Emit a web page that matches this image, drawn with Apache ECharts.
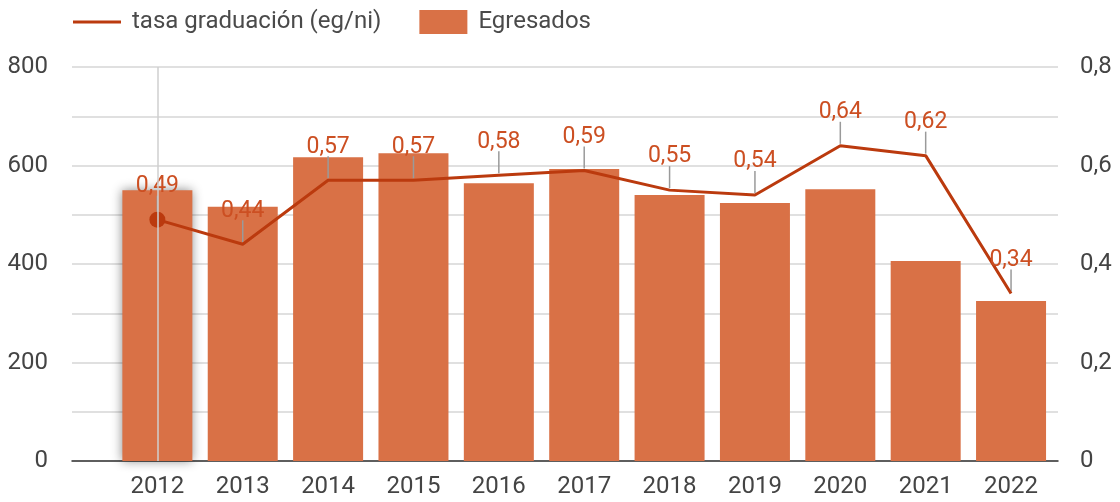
<!DOCTYPE html>
<html>
<head>
<meta charset="utf-8">
<script src="https://cdn.jsdelivr.net/npm/echarts@6/dist/echarts.min.js"></script>
<style>
  html, body { margin: 0; padding: 0; background: #fff; }
  #main { width: 1120px; height: 502px; }
</style>
</head>
<body>
<div id="main"></div>
<script>
// datos
var years = [2012, 2013, 2014, 2015, 2016, 2017, 2018, 2019, 2020, 2021, 2022];
var egresados = [550, 516, 617, 625, 564, 593, 540, 524, 552, 406, 325];
var tasa = [0.49, 0.44, 0.57, 0.57, 0.58, 0.59, 0.55, 0.54, 0.64, 0.62, 0.34];
var leftTicks = [0, 200, 400, 600, 800];
var rightTicks = [0, 0.2, 0.4, 0.6, 0.8];

var barColor = '#d97146';
var lineColor = '#bb3a0e';
var textColor = '#444';

function coma(v) {
    return String(v).replace('.', ',');
}

var barData = years.map(function (y, i) {
    var item = { value: [y, egresados[i]] };
    if (i === 0) {
        // barra resaltada (hover)
        item.itemStyle = { shadowBlur: 10, shadowColor: 'rgba(0,0,0,0.45)' };
    }
    return item;
});
var lineData = years.map(function (y, i) {
    var item = { value: [y, tasa[i]], symbolSize: 0 };
    if (i === 0) {
        // punto resaltado
        item.symbolSize = 16;
        item.label = { distance: 14 };
    }
    return item;
});

var chart = echarts.init(document.getElementById('main'));
chart.setOption({
    animation: false,
    textStyle: { fontFamily: 'Roboto' },
    legend: {
        left: 73,
        top: 10,
        padding: 0,
        itemGap: 38,
        itemWidth: 48,
        itemHeight: 24,
        textStyle: { fontSize: 24, color: '#4a4a4a', fontFamily: 'Roboto', padding: [0, 0, 0, 6] },
        data: [
            { name: 'tasa graduación (eg/ni)', icon: 'path://M0,0 L48,0 L48,3 L0,3 Z' },
            { name: 'Egresados', icon: 'rect' }
        ]
    },
    grid: { left: 72, right: 62, top: 67, bottom: 41 },
    xAxis: {
        type: 'value',
        min: 2011,
        max: 2022.55,
        interval: 1,
        splitLine: { show: false },
        axisTick: { show: false },
        axisLine: { show: true, lineStyle: { color: '#333', width: 1.5 } },
        axisLabel: {
            fontSize: 24,
            color: textColor,
            margin: 14,
            showMaxLabel: false,
            formatter: function (v) {
                return years.indexOf(v) >= 0 ? String(v) : '';
            }
        }
    },
    yAxis: [{
        type: 'value',
        min: 0,
        max: 800,
        interval: 100,
        axisLine: { show: false },
        axisTick: { show: false },
        splitLine: { lineStyle: { color: '#d6d6d6', width: 1.5 } },
        axisLabel: {
            fontSize: 24,
            color: textColor,
            margin: 24,
            formatter: function (v) {
                return leftTicks.indexOf(v) >= 0 ? String(v) : '';
            }
        }
    }, {
        type: 'value',
        min: 0,
        max: 0.8,
        interval: 0.1,
        axisLine: { show: false },
        axisTick: { show: false },
        splitLine: { show: false },
        axisLabel: {
            fontSize: 24,
            color: textColor,
            margin: 22,
            formatter: function (v) {
                var r = Math.round(v * 10) / 10;
                return rightTicks.indexOf(r) >= 0 ? coma(r) : '';
            }
        }
    }],
    series: [{
        name: 'Egresados',
        type: 'bar',
        barWidth: 70,
        itemStyle: { color: barColor },
        data: barData,
        markLine: {
            silent: true,
            symbol: 'none',
            label: { show: false },
            lineStyle: { color: '#cfcfcf', width: 1.5, type: 'solid' },
            data: [{ xAxis: 2012 }]
        }
    }, {
        name: 'leader',
        type: 'custom',
        yAxisIndex: 1,
        silent: true,
        z: 3,
        data: years.map(function (y, i) { return [y, tasa[i]]; }),
        renderItem: function (params, api) {
            var p = api.coord([api.value(0), api.value(1)]);
            return {
                type: 'line',
                shape: { x1: p[0], y1: p[1] - 2, x2: p[0], y2: p[1] - 24 },
                style: { stroke: '#9a9a9a', lineWidth: 1.5 }
            };
        }
    }, {
        name: 'tasa graduación (eg/ni)',
        type: 'line',
        yAxisIndex: 1,
        z: 4,
        symbol: 'circle',
        showSymbol: true,
        lineStyle: { color: lineColor, width: 3 },
        itemStyle: { color: lineColor },
        label: {
            show: true,
            position: 'top',
            distance: 22,
            fontSize: 23,
            color: '#cc4f22',
            formatter: function (p) {
                return coma(p.value[1].toFixed(2));
            }
        },
        data: lineData
    }]
});
</script>
</body>
</html>
